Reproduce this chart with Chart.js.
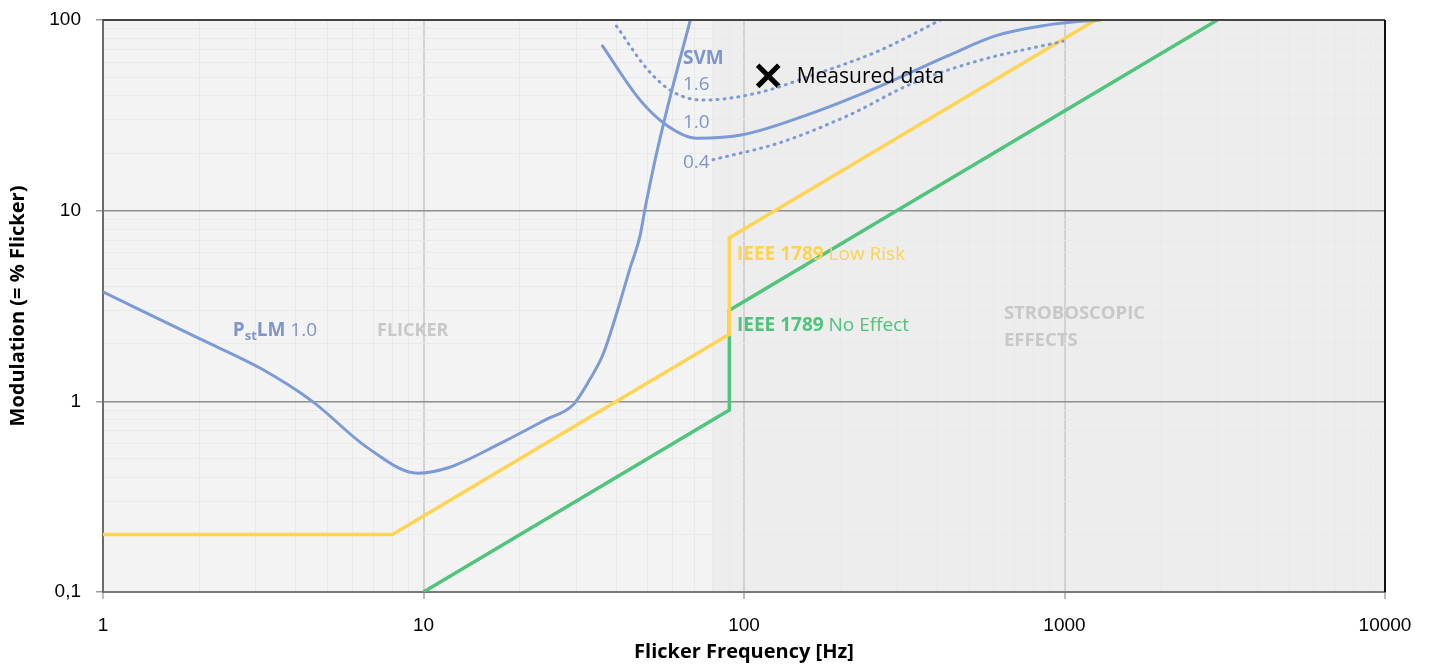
<!DOCTYPE html>
<html>
<head>
  <title>Flicker</title>
  <script src="https://cdn.jsdelivr.net/npm/chart.js"></script>
  <style>
    body { margin: 0; background: #fff; }
    .wrap { width: 1436px; height: 664px; }
  </style>
</head>
<body>
  <div class="wrap"><canvas id="grafica"></canvas></div>

  <script>
    // datos
    const pstFreq = [1, 2, 3.1, 4.5, 6.7, 9.6, 12, 17.3, 24, 29.3, 33, 36.3, 40.2, 44, 47.4, 49.1, 52, 55.9, 60, 64, 68];
    const pstMod = [3.75, 2.13, 1.49, 1.0, 0.57, 0.42, 0.45, 0.6, 0.8, 0.96, 1.3, 1.76, 2.95, 4.94, 7.4, 10.2, 16.4, 27.9, 45, 68, 100];

    const svm10Freq = [36, 47.4, 57.5, 71.3, 99, 164, 266, 430, 615, 881, 1117, 1300];
    const svm10Mod = [74, 38, 28, 24, 25, 32.6, 45, 64.6, 83, 94, 98.4, 100];

    const svm16Freq = [40, 50, 60, 74.5, 110, 164, 266, 410];
    const svm16Mod = [93, 55, 42, 38, 41.4, 51.4, 69.4, 100];

    const svm04Freq = [80, 129, 210, 337, 545, 989];
    const svm04Mod = [18.5, 22.7, 31.4, 46.7, 61.5, 77.3];

    const lowRiskFreq = [1, 8, 90, 90, 1250];
    const lowRiskMod = [0.2, 0.2, 2.25, 7.2, 100];

    const noEffectFreq = [10, 90, 90, 3000];
    const noEffectMod = [0.1, 0.9, 3.0, 100];

    const measuredFreq = [119];
    const measuredMod = [51];

    const xTickValues = [1, 10, 100, 1000, 10000];
    const xTickLabels = ['1', '10', '100', '1000', '10000'];
    const yTickValues = [0.1, 1, 10, 100];
    const yTickLabels = ['0,1', '1', '10', '100'];

    const strobeStart = 80; // inicio de la zona sombreada

    const AZUL = '#7b9ad6';
    const AMARILLO = '#ffd452';
    const VERDE = '#4fc47c';

    function puntos(xs, ys) {
      return xs.map((x, i) => ({ x: x, y: ys[i] }));
    }

    function logTicks(min, max) {
      const t = [];
      for (let d = min; d < max; d *= 10) {
        for (let k = 1; k < 10; k++) t.push({ value: +(d * k).toPrecision(3) });
      }
      t.push({ value: max });
      return t;
    }

    function esDecada(v) {
      const l = Math.log10(v);
      return Math.abs(l - Math.round(l)) < 1e-9;
    }

    // textos sobre la gráfica (posiciones en coordenadas de datos)
    const etiquetas = [
      { x: 2.54, y: 2.35, partes: [
        { t: 'P', f: 'bold 19px "Open Sans"', c: '#7d95c9' },
        { t: 'st', f: 'bold 13px "Open Sans"', c: '#7d95c9', dy: 6 },
        { t: 'LM', f: 'bold 19px "Open Sans"', c: '#7d95c9' },
        { t: ' 1.0', f: '19px "Open Sans"', c: '#7d95c9' } ] },
      { x: 7.16, y: 2.35, partes: [{ t: 'FLICKER', f: 'bold 18px "Open Sans"', c: '#c8c8c8' }] },
      { x: 64.5, y: 63, partes: [{ t: 'SVM', f: 'bold 19px "Open Sans"', c: '#7d95c9' }] },
      { x: 64.5, y: 45.6, partes: [{ t: '1.6', f: '19px "Open Sans"', c: '#7d95c9' }] },
      { x: 64.5, y: 28.9, partes: [{ t: '1.0', f: '19px "Open Sans"', c: '#7d95c9' }] },
      { x: 64.5, y: 17.9, partes: [{ t: '0.4', f: '19px "Open Sans"', c: '#7d95c9' }] },
      { x: 146, y: 50.2, partes: [{ t: 'Measured data', f: '21px "Open Sans"', c: '#000' }] },
      { x: 95.1, y: 5.85, partes: [
        { t: 'IEEE 1789', f: 'bold 19px "Open Sans"', c: '#ffd34d' },
        { t: ' Low Risk', f: '19px "Open Sans"', c: '#ffd34d' } ] },
      { x: 95.1, y: 2.49, partes: [
        { t: 'IEEE 1789', f: 'bold 19px "Open Sans"', c: '#4dc47b' },
        { t: ' No Effect', f: '19px "Open Sans"', c: '#4dc47b' } ] },
      { x: 647, y: 2.88, partes: [{ t: 'STROBOSCOPIC', f: 'bold 18.5px "Open Sans"', c: '#c8c8c8' }] },
      { x: 647, y: 2.08, partes: [{ t: 'EFFECTS', f: 'bold 18.5px "Open Sans"', c: '#c8c8c8' }] }
    ];

    const fondo = {
      id: 'fondo',
      beforeDraw(chart) {
        const { ctx, chartArea: a, scales } = chart;
        const xs = scales.x.getPixelForValue(strobeStart);
        ctx.save();
        ctx.fillStyle = '#f3f3f3';
        ctx.fillRect(a.left, a.top, a.right - a.left, a.bottom - a.top);
        ctx.fillStyle = '#ededed';
        ctx.fillRect(xs, a.top, a.right - xs, a.bottom - a.top);
        ctx.restore();
      },
      afterDraw(chart) {
        const { ctx, chartArea: a } = chart;
        ctx.save();
        ctx.lineWidth = 2;
        ctx.strokeStyle = '#444';
        ctx.beginPath(); ctx.moveTo(a.left, a.top); ctx.lineTo(a.right, a.top); ctx.stroke();
        ctx.strokeStyle = '#111';
        ctx.beginPath(); ctx.moveTo(a.right, a.top); ctx.lineTo(a.right, a.bottom); ctx.stroke();
        ctx.restore();
      }
    };

    const textos = {
      id: 'textos',
      afterDatasetsDraw(chart) {
        const { ctx, scales } = chart;
        ctx.save();
        ctx.textBaseline = 'middle';
        ctx.textAlign = 'left';
        etiquetas.forEach(e => {
          let px = scales.x.getPixelForValue(e.x);
          const py = scales.y.getPixelForValue(e.y);
          e.partes.forEach(p => {
            ctx.font = p.f;
            ctx.fillStyle = p.c;
            ctx.fillText(p.t, px, py + (p.dy || 0));
            px += ctx.measureText(p.t).width;
          });
        });
        ctx.restore();
      }
    };

    const linea = (datos, color, extra) => Object.assign({
      data: datos,
      showLine: true,
      borderColor: color,
      backgroundColor: color,
      borderWidth: 3,
      pointRadius: 0,
      fill: false
    }, extra || {});

    new Chart(document.getElementById('grafica'), {
      type: 'scatter',
      data: {
        datasets: [
          linea(puntos(pstFreq, pstMod), AZUL, { cubicInterpolationMode: 'monotone' }),
          linea(puntos(svm10Freq, svm10Mod), AZUL, { cubicInterpolationMode: 'monotone' }),
          linea(puntos(svm16Freq, svm16Mod), AZUL, { cubicInterpolationMode: 'monotone', borderDash: [1, 6], borderCapStyle: 'round' }),
          linea(puntos(svm04Freq, svm04Mod), AZUL, { cubicInterpolationMode: 'monotone', borderDash: [1, 6], borderCapStyle: 'round' }),
          linea(puntos(lowRiskFreq, lowRiskMod), AMARILLO, { borderWidth: 3.5 }),
          linea(puntos(noEffectFreq, noEffectMod), VERDE, { borderWidth: 3.5 }),
          {
            data: puntos(measuredFreq, measuredMod),
            pointStyle: 'crossRot',
            pointRadius: 15,
            pointBorderWidth: 5,
            borderColor: '#000',
            backgroundColor: '#000'
          }
        ]
      },
      options: {
        responsive: true,
        maintainAspectRatio: false,
        animation: false,
        layout: { padding: { top: 17, right: 51, left: 0, bottom: 0 } },
        plugins: { legend: { display: false }, tooltip: { enabled: false } },
        scales: {
          x: {
            type: 'logarithmic',
            min: 1,
            max: 10000,
            afterBuildTicks: s => { s.ticks = logTicks(1, 10000); },
            afterFit: s => { s.height = 72; s.paddingLeft = 0; s.paddingRight = 0; },
            ticks: {
              autoSkip: false,
              maxRotation: 0,
              padding: 15,
              color: '#000',
              font: { family: '"Liberation Sans", Arial', size: 19 },
              callback: v => { const i = xTickValues.indexOf(v); return i >= 0 ? xTickLabels[i] : ''; }
            },
            grid: {
              color: c => esDecada(c.tick.value) ? '#d2d2d2' : '#e9e9e9',
              lineWidth: c => esDecada(c.tick.value) ? 2 : 1,
              tickColor: c => esDecada(c.tick.value) ? '#bdbdbd' : 'rgba(0,0,0,0)',
              tickLength: 7
            },
            border: { color: '#7a7a7a', width: 2 },
            title: {
              display: true,
              text: 'Flicker Frequency [Hz]',
              color: '#000',
              font: { family: '"Open Sans"', size: 20, weight: 'bold' },
              padding: { top: 0, bottom: 0 }
            }
          },
          y: {
            type: 'logarithmic',
            min: 0.1,
            max: 100,
            afterBuildTicks: s => { s.ticks = logTicks(0.1, 100); },
            afterFit: s => { s.width = 103; s.paddingTop = 0; s.paddingBottom = 0; },
            ticks: {
              autoSkip: false,
              padding: 15,
              color: '#000',
              font: { family: '"Liberation Sans", Arial', size: 19 },
              callback: v => { const i = yTickValues.findIndex(t => Math.abs(t - v) < 1e-9); return i >= 0 ? yTickLabels[i] : ''; }
            },
            grid: {
              color: c => esDecada(c.tick.value) ? '#8e8e8e' : '#eaeaea',
              lineWidth: c => esDecada(c.tick.value) ? 1.5 : 1,
              tickColor: c => esDecada(c.tick.value) ? '#9a9a9a' : 'rgba(0,0,0,0)',
              tickLength: 7
            },
            border: { color: '#6b6b6b', width: 2 },
            title: {
              display: true,
              text: 'Modulation (= % Flicker)',
              color: '#000',
              font: { family: '"Open Sans"', size: 20, weight: 'bold' },
              padding: { top: 6, bottom: 0 }
            }
          }
        }
      },
      plugins: [fondo, textos]
    });
  </script>
</body>
</html>
